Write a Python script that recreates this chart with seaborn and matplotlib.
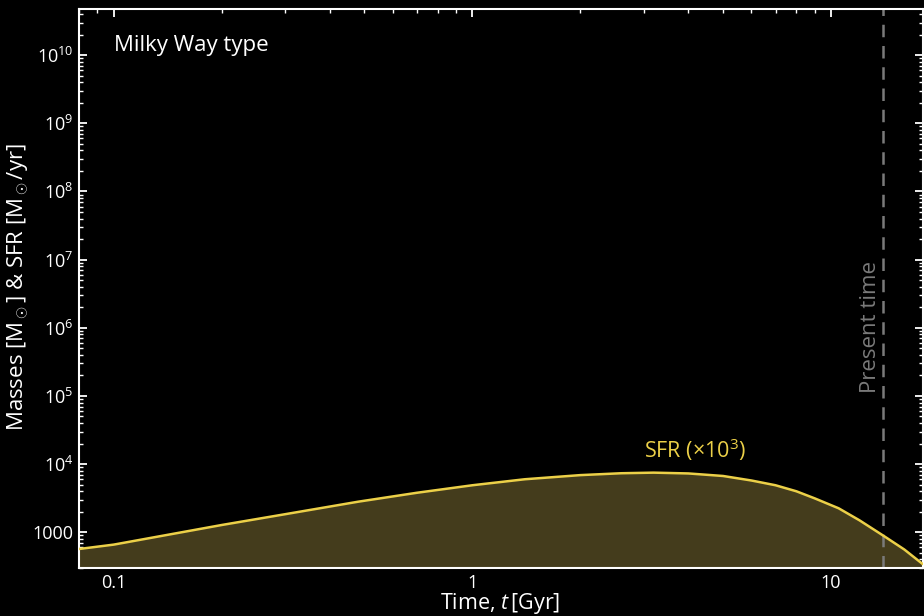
import matplotlib
matplotlib.use("Agg")
import matplotlib.pyplot as plt
import matplotlib.ticker as mticker
import numpy as np
import pandas as pd
import seaborn as sns

# Star formation history of a Milky Way type galaxy (SFR scaled by 10^3)
time_gyr = [0.08, 0.1, 0.2, 0.3, 0.48, 0.7, 1.0, 1.4, 2.0, 2.6, 3.2, 4.0,
            5.0, 6.0, 7.0, 8.0, 9.0, 10.5, 12.0, 14.0, 16.0, 18.0]
sfr_x1e3 = [569, 660, 1280, 1840, 2810, 3800, 4900, 6000, 6900, 7350, 7500, 7300,
            6700, 5750, 4900, 4000, 3150, 2250, 1500, 890, 560, 343]
present_time = 14.0

x_ticks = [0.1, 1, 10]
x_ticklabels = ["0.1", "1", "10"]

sfr_color = "#ecd048"
fill_color = "#443c1c"
grey = "#7a7a7a"

sns.set_theme(style="ticks")
plt.rcParams["font.family"] = ["Open Sans", "DejaVu Sans"]
plt.rcParams["mathtext.fontset"] = "custom"
plt.rcParams["mathtext.rm"] = "Open Sans"
plt.rcParams["mathtext.it"] = "Open Sans:italic"
plt.rcParams["mathtext.bf"] = "Open Sans:bold"

df = pd.DataFrame({"t": time_gyr, "sfr": sfr_x1e3})

fig = plt.figure(figsize=(9.24, 6.16), dpi=100, facecolor="black")
ax = fig.add_axes([0.0855, 0.078, 0.913, 0.908])
ax.set_facecolor("black")

ax.set_xscale("log")
ax.set_yscale("log")
ymin, ymax = 300, 4.8e10
ax.set_xlim(0.08, 18.0)
ax.set_ylim(ymin, ymax)

ax.fill_between(df["t"], df["sfr"], ymin * 0.5, color=fill_color, lw=0, zorder=1)
sns.lineplot(data=df, x="t", y="sfr", ax=ax, color=sfr_color, lw=1.8, zorder=3)

ax.axvline(present_time, color=grey, lw=1.8, ls=(0, (5, 3.5)), zorder=2)
ax.text(present_time * 0.985, 1.1e5, "Present time", rotation=90, color=grey,
        fontsize=16, ha="right", va="bottom")

ax.text(3.0, 1.05e4, r"SFR ($\times$10$^3$)", color=sfr_color, fontsize=15.5,
        ha="left", va="bottom")
ax.text(0.0415, 0.934, "Milky Way type", transform=ax.transAxes, color="white",
        fontsize=16, ha="left", va="center")

ax.set_xticks(x_ticks)
ax.set_xticklabels(x_ticklabels)


def ylab(v, pos):
    # label only decades inside the visible range
    if v < ymin or v > ymax:
        return ""
    n = int(round(np.log10(v)))
    if abs(v - 10 ** n) > 1e-6 * v:
        return ""
    if n <= 3:
        return f"{int(round(v))}"
    return rf"10$^{{{n}}}$"


ax.yaxis.set_major_locator(mticker.LogLocator(base=10, numticks=20))
ax.yaxis.set_minor_locator(mticker.LogLocator(base=10, subs=np.arange(2, 10), numticks=40))
ax.yaxis.set_major_formatter(mticker.FuncFormatter(ylab))
ax.yaxis.set_minor_formatter(mticker.NullFormatter())
ax.xaxis.set_minor_formatter(mticker.NullFormatter())

ax.tick_params(which="both", direction="in", colors="white", top=True, right=True,
               labelsize=13)
ax.tick_params(which="major", length=6, width=1.3, pad=4)
ax.tick_params(which="minor", length=3, width=1.0)

for s in ax.spines.values():
    s.set_color("white")
    s.set_linewidth(1.5)

ax.set_xlabel(r"Time, $t\,$[Gyr]", color="white", fontsize=15.5, va="center")
ax.xaxis.set_label_coords(0.4994, -0.064)
ax.set_ylabel(r"Masses [M$_\odot$] & SFR [M$_\odot$/yr]", color="white",
              fontsize=16, va="center")
ax.yaxis.set_label_coords(-0.0724, 0.502)

fig.savefig("out.png", dpi=100, facecolor="black")
